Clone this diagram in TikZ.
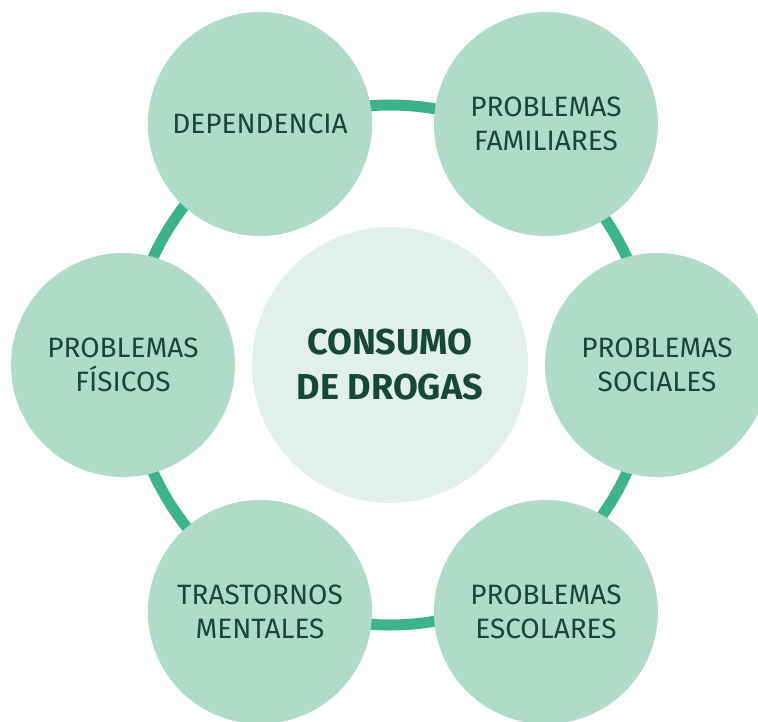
\documentclass[tikz,border=0pt]{standalone}
\usepackage{fontspec}
\setmainfont{Fira Sans}
\definecolor{ringgreen}{HTML}{3DB38B}
\definecolor{mint}{HTML}{B0DBC9}
\definecolor{palemint}{HTML}{E2F0EA}
\definecolor{darkgreen}{HTML}{17463A}
\begin{document}
\begin{tikzpicture}[x=1pt,y=1pt,yscale=-1,
  topic/.style={circle,fill=mint,minimum size=224pt,inner sep=0pt,align=center,text=darkgreen,font=\fontsize{28}{34}\selectfont},
  hub/.style={circle,fill=palemint,minimum size=276pt,inner sep=0pt,align=center,text=darkgreen,font=\fontsize{36}{45}\selectfont\bfseries}]
\useasboundingbox (0,0) rectangle (758,722);
\coordinate (mid) at (390,365);
% ring behind the circles
\draw [ringgreen, line width=11pt] (mid) circle (260pt);
\node [hub] (drugs) at (mid) {CONSUMO\\DE DROGAS};
\node [topic] (dep) at (260,124) {DEPENDENCIA};
\node [topic] (fam) at (546,124) {PROBLEMAS\\FAMILIARES};
\node [topic] (soc) at (657,365) {PROBLEMAS\\SOCIALES};
\node [topic] (esc) at (546,612) {PROBLEMAS\\ESCOLARES};
\node [topic] (ment) at (260,612) {TRASTORNOS\\MENTALES};
\node [topic] (fis) at (123,365) {PROBLEMAS\\FÍSICOS};
\end{tikzpicture}
\end{document}
